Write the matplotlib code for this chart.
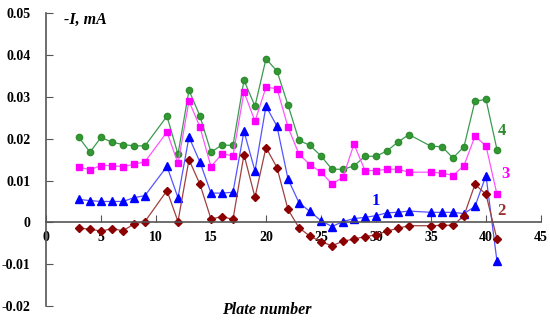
import numpy as np
import matplotlib.pyplot as plt

plt.rcParams['font.family'] = ['Liberation Serif', 'DejaVu Serif']

# plate numbers (10 and 34 not measured)
plates = [3, 4, 5, 6, 7, 8, 9, 11, 12, 13, 14, 15, 16, 17, 18, 19, 20, 21, 22,
          23, 24, 25, 26, 27, 28, 29, 30, 31, 32, 33, 35, 36, 37, 38, 39, 40, 41]

# series 1 (blue triangles)
s1 = [0.0055, 0.0052, 0.0050, 0.0050, 0.0050, 0.0059, 0.0064, 0.0134, 0.0059,
      0.0204, 0.0144, 0.0070, 0.0070, 0.0072, 0.0218, 0.0123, 0.0278, 0.0230,
      0.0104, 0.0047, 0.0026, 0.0004, -0.0010, 0.0002, 0.0009, 0.0012, 0.0016,
      0.0023, 0.0024, 0.0027, 0.0024, 0.0024, 0.0024, 0.0021, 0.0038, 0.0112,
      -0.0093]
# series 2 (dark red diamonds)
s2 = [-0.0014, -0.0016, -0.0021, -0.0015, -0.0020, -0.0004, 0.0002, 0.0076,
      0.0002, 0.0150, 0.0091, 0.0008, 0.0014, 0.0007, 0.0162, 0.0060, 0.0179,
      0.0131, 0.0031, -0.0013, -0.0033, -0.0046, -0.0056, -0.0045, -0.0040,
      -0.0034, -0.0030, -0.0021, -0.0014, -0.0008, -0.0008, -0.0007, -0.0007,
      0.0016, 0.0091, 0.0067, -0.0040]
# series 3 (magenta squares)
s3 = [0.0132, 0.0126, 0.0136, 0.0136, 0.0133, 0.0139, 0.0145, 0.0216, 0.0141,
      0.0290, 0.0228, 0.0133, 0.0164, 0.0159, 0.0312, 0.0242, 0.0323, 0.0320,
      0.0228, 0.0163, 0.0138, 0.0120, 0.0092, 0.0108, 0.0187, 0.0124, 0.0124,
      0.0127, 0.0127, 0.0120, 0.0120, 0.0118, 0.0112, 0.0136, 0.0206, 0.0183,
      0.0067]
# series 4 (green circles)
s4 = [0.0203, 0.0168, 0.0203, 0.0192, 0.0186, 0.0183, 0.0183, 0.0254, 0.0163,
      0.0316, 0.0254, 0.0168, 0.0185, 0.0184, 0.0340, 0.0278, 0.0391, 0.0362,
      0.0281, 0.0196, 0.0184, 0.0159, 0.0127, 0.0127, 0.0135, 0.0158, 0.0158,
      0.0171, 0.0192, 0.0210, 0.0182, 0.0181, 0.0154, 0.0181, 0.0290, 0.0294,
      0.0174]

fig = plt.figure(figsize=(5.5, 3.22), dpi=100)
ax = fig.add_axes([0.0836, 0.0497, 0.9, 0.909])

ax.plot(plates, s4, color='#3C9A50', lw=0.9, marker='o', ms=4.5,
        mfc='#339933', mec='#2E8B2E')
ax.plot(plates, s3, color='#FF55FF', lw=0.9, marker='s', ms=4.5,
        mfc='#FF00FF', mec='#FF00FF')
ax.plot(plates, s1, color='#5555FF', lw=0.9, marker='^', ms=6,
        mfc='#0000FF', mec='#0000FF')
ax.plot(plates, s2, color='#A04040', lw=0.9, marker='D', ms=4,
        mfc='#8B0000', mec='#8B0000')

ax.text(30, 0.0050, '1', color='#0000FF', fontsize=12, fontweight='bold',
        ha='center', va='center')
ax.text(41.4, 0.0028, '2', color='#993333', fontsize=12, fontweight='bold',
        ha='center', va='center')
ax.text(41.8, 0.0115, '3', color='#FF00FF', fontsize=12, fontweight='bold',
        ha='center', va='center')
ax.text(41.4, 0.0218, '4', color='#2E8B2E', fontsize=12, fontweight='bold',
        ha='center', va='center')

ax.set_xlim(0, 45)
ax.set_ylim(-0.02, 0.05)
ax.set_xticks(np.arange(0, 46, 5))
ax.set_yticks([-0.02, -0.01, 0, 0.01, 0.02, 0.03, 0.04, 0.05])
ax.set_yticklabels(['-0.02', '-0.01', '0', '0.01', '0.02', '0.03', '0.04', '0.05'])

ax.spines['top'].set_visible(False)
ax.spines['right'].set_visible(False)
ax.spines['bottom'].set_position(('data', 0))
for sp in ['left', 'bottom']:
    ax.spines[sp].set_color('#555555')
    ax.spines[sp].set_linewidth(1.2)
ax.tick_params(direction='in', length=5, color='#555555', labelsize=10)
ax.tick_params(axis='x', pad=6)
ax.tick_params(axis='y', pad=11)
for lab in ax.get_xticklabels() + ax.get_yticklabels():
    lab.set_fontweight('bold')

ax.text(1.6, 0.0484, '-I, mA', fontsize=11.5,
        fontweight='bold', fontstyle='italic', va='center')
fig.text(0.485, 0.037, 'Plate number', fontsize=11.5, fontweight='bold',
         fontstyle='italic', ha='center', va='center')

plt.savefig('out.png', dpi=100)
